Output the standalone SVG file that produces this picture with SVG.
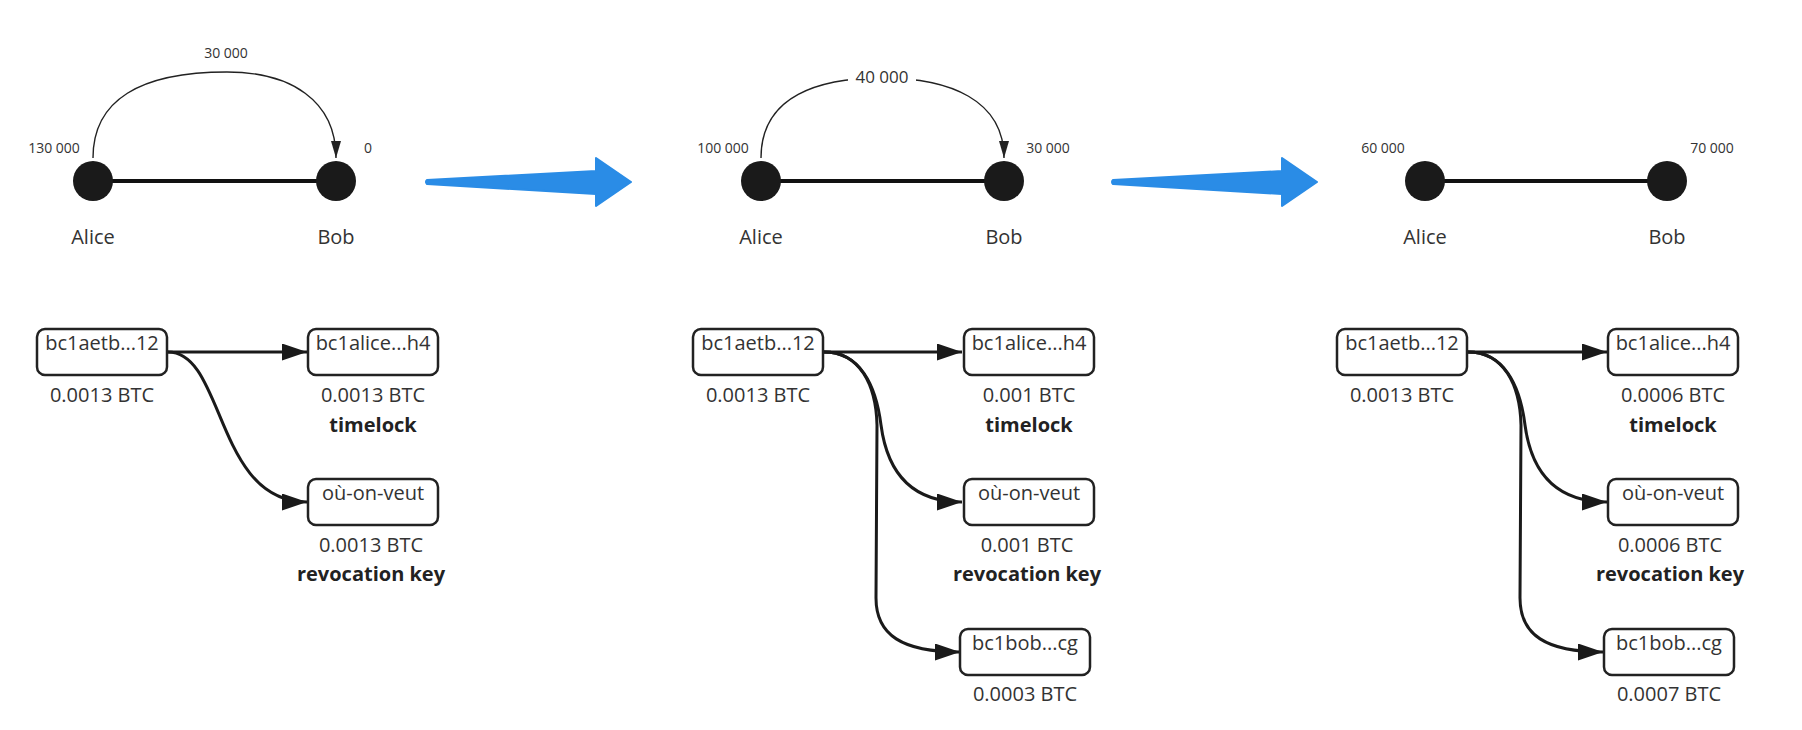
<svg xmlns="http://www.w3.org/2000/svg" width="1802" height="730" viewBox="0 0 1802 730">
<style>
  .t { font-family: "Open Sans", "Liberation Sans", sans-serif; fill: #333; text-anchor: middle; }
  .lbl { font-size: 14px; }
  .name { font-size: 20px; }
  .box-t { font-size: 20px; }
  .b { font-weight: bold; fill: #222; }
  .node { fill: #1a1a1a; }
  .chan { stroke: #111; stroke-width: 4; fill: none; }
  .pay { stroke: #222; stroke-width: 1.4; fill: none; marker-end: url(#small); }
  .box { fill: #fff; stroke: #222; stroke-width: 2.5; }
  .con { stroke: #1a1a1a; stroke-width: 3; fill: none; marker-end: url(#big); }
  .step { fill: #2a8ce6; stroke: #2a8ce6; stroke-width: 2; stroke-linejoin: round; }
</style>
<defs>
  <marker id="small" markerUnits="userSpaceOnUse" markerWidth="18" markerHeight="10" refX="17" refY="5" orient="auto">
    <path d="M0,0 L17,5 L0,10 z" fill="#222"/>
  </marker>
  <marker id="big" markerUnits="userSpaceOnUse" markerWidth="26" markerHeight="18" refX="25" refY="8.5" orient="auto">
    <path d="M0,0 L25,8.5 L0,17 z" fill="#1a1a1a"/>
  </marker>
</defs>
<rect width="1802" height="730" fill="#fff"/>

<!-- step arrows -->
<g id="step-arrows">
  <path class="step" d="M427,180 L596,171 L596,158 L631,182 L596,206 L596,194 L427,184 Q425,182 427,180 z"/>
  <path class="step" d="M1113,180 L1282,171 L1282,158 L1317,182 L1282,206 L1282,194 L1113,184 Q1111,182 1113,180 z"/>
</g>

<!-- connectors -->
<g id="connectors">
  <line class="chan" x1="112" y1="181" x2="317" y2="181"/>
  <line class="chan" x1="780" y1="181" x2="985" y2="181"/>
  <line class="chan" x1="1444" y1="181" x2="1648" y2="181"/>
  <path class="pay" d="M93,158 C93,100 140,72 227,72 C290,72 336,100 336,158"/>
  <path class="pay" d="M761,158 C761,95 820,78 882,78 C950,78 1004,100 1004,158"/>

  <path class="con" d="M168,352 L307,352"/>
  <path class="con" d="M168,352 C225,352 215,502 307,502"/>

  <path class="con" d="M824,352 L962,352"/>
  <path class="con" d="M824,352 C860,352 876,385 881,425 C887,470 910,502 962,502"/>
  <path class="con" d="M824,352 C860,352 876,385 877,425 L876,598 C876,635 902,652 960,652"/>

  <path class="con" d="M1468,352 L1607,352"/>
  <path class="con" d="M1468,352 C1504,352 1520,385 1525,425 C1531,470 1554,502 1607,502"/>
  <path class="con" d="M1468,352 C1504,352 1520,385 1521,425 L1520,598 C1520,635 1546,652 1603,652"/>
</g>

<!-- panel 1 channel -->
<g id="p1-alice"><circle class="node" cx="93" cy="181" r="20"/><text class="t name" x="93" y="244">Alice</text><text class="t lbl" x="54" y="153">130 000</text></g>
<g id="p1-bob"><circle class="node" cx="336" cy="181" r="20"/><text class="t name" x="336" y="244">Bob</text><text class="t lbl" x="368" y="153">0</text></g>
<g id="p1-pay"><text class="t lbl" x="226" y="58">30 000</text></g>

<!-- panel 2 channel -->
<g id="p2-alice"><circle class="node" cx="761" cy="181" r="20"/><text class="t name" x="761" y="244">Alice</text><text class="t lbl" x="723" y="153">100 000</text></g>
<g id="p2-bob"><circle class="node" cx="1004" cy="181" r="20"/><text class="t name" x="1004" y="244">Bob</text><text class="t lbl" x="1048" y="153">30 000</text></g>
<g id="p2-pay"><rect x="848" y="64" width="68" height="24" fill="#fff"/><text class="t" style="font-size:17px" x="882" y="83">40 000</text></g>

<!-- panel 3 channel -->
<g id="p3-alice"><circle class="node" cx="1425" cy="181" r="20"/><text class="t name" x="1425" y="244">Alice</text><text class="t lbl" x="1383" y="153">60 000</text></g>
<g id="p3-bob"><circle class="node" cx="1667" cy="181" r="20"/><text class="t name" x="1667" y="244">Bob</text><text class="t lbl" x="1712" y="153">70 000</text></g>

<!-- panel 1 transactions -->
<g id="p1-funding"><rect class="box" x="37" y="329" width="130" height="46" rx="8"/><text class="t box-t" x="102" y="350">bc1aetb...12</text><text class="t box-t" x="102" y="402">0.0013 BTC</text></g>
<g id="p1-alice-out"><rect class="box" x="308" y="329" width="130" height="46" rx="8"/><text class="t box-t" x="373" y="350">bc1alice...h4</text><text class="t box-t" x="373" y="402">0.0013 BTC</text><text class="t box-t b" x="373" y="432">timelock</text></g>
<g id="p1-revoc"><rect class="box" x="308" y="479" width="130" height="46" rx="8"/><text class="t box-t" x="373" y="500">où-on-veut</text><text class="t box-t" x="371" y="552">0.0013 BTC</text><text class="t box-t b" x="371" y="581">revocation key</text></g>

<!-- panel 2 transactions -->
<g id="p2-funding"><rect class="box" x="693" y="329" width="130" height="46" rx="8"/><text class="t box-t" x="758" y="350">bc1aetb...12</text><text class="t box-t" x="758" y="402">0.0013 BTC</text></g>
<g id="p2-alice-out"><rect class="box" x="964" y="329" width="130" height="46" rx="8"/><text class="t box-t" x="1029" y="350">bc1alice...h4</text><text class="t box-t" x="1029" y="402">0.001 BTC</text><text class="t box-t b" x="1029" y="432">timelock</text></g>
<g id="p2-revoc"><rect class="box" x="964" y="479" width="130" height="46" rx="8"/><text class="t box-t" x="1029" y="500">où-on-veut</text><text class="t box-t" x="1027" y="552">0.001 BTC</text><text class="t box-t b" x="1027" y="581">revocation key</text></g>
<g id="p2-bob-out"><rect class="box" x="960" y="629" width="130" height="46" rx="8"/><text class="t box-t" x="1025" y="650">bc1bob...cg</text><text class="t box-t" x="1025" y="701">0.0003 BTC</text></g>

<!-- panel 3 transactions -->
<g id="p3-funding"><rect class="box" x="1337" y="329" width="130" height="46" rx="8"/><text class="t box-t" x="1402" y="350">bc1aetb...12</text><text class="t box-t" x="1402" y="402">0.0013 BTC</text></g>
<g id="p3-alice-out"><rect class="box" x="1608" y="329" width="130" height="46" rx="8"/><text class="t box-t" x="1673" y="350">bc1alice...h4</text><text class="t box-t" x="1673" y="402">0.0006 BTC</text><text class="t box-t b" x="1673" y="432">timelock</text></g>
<g id="p3-revoc"><rect class="box" x="1608" y="479" width="130" height="46" rx="8"/><text class="t box-t" x="1673" y="500">où-on-veut</text><text class="t box-t" x="1670" y="552">0.0006 BTC</text><text class="t box-t b" x="1670" y="581">revocation key</text></g>
<g id="p3-bob-out"><rect class="box" x="1604" y="629" width="130" height="46" rx="8"/><text class="t box-t" x="1669" y="650">bc1bob...cg</text><text class="t box-t" x="1669" y="701">0.0007 BTC</text></g>
</svg>
